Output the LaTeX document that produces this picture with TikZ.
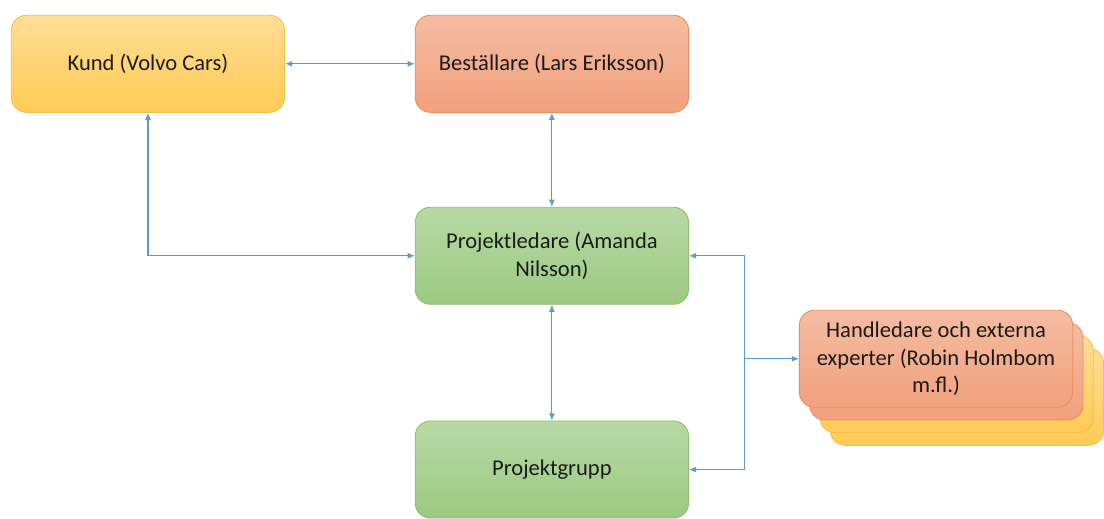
\documentclass[tikz,border=0pt]{standalone}
\usepackage{fontspec}
\setmainfont{Carlito}
\usepackage{tikz}
\usetikzlibrary{arrows.meta,positioning,calc,backgrounds}
\definecolor{linec}{HTML}{5B9BD5}
\definecolor{goldtop}{HTML}{FEDD95}
\definecolor{goldbot}{HTML}{FFCB55}
\definecolor{goldrule}{HTML}{F4C145}
\definecolor{redtop}{HTML}{F5BCA2}
\definecolor{redbot}{HTML}{F2A17C}
\definecolor{redrule}{HTML}{EC8C63}
\definecolor{greentop}{HTML}{B8D9A5}
\definecolor{greenbot}{HTML}{9CCA81}
\definecolor{greenrule}{HTML}{8DBF70}
\definecolor{textc}{HTML}{1A1A1A}
\tikzset{
  role/.style={line width=0.6pt,rounded corners=0.38cm,minimum width=6.9cm,
    minimum height=2.45cm,align=center,text=textc,font=\fontsize{16.2}{19.5}\selectfont},
  roley/.style={role,draw=goldrule,top color=goldtop,bottom color=goldbot},
  roler/.style={role,draw=redrule,top color=redtop,bottom color=redbot},
  roleg/.style={role,draw=greenrule,top color=greentop,bottom color=greenbot},
  link/.style={{Latex[length=1.8mm,width=1.5mm]}-{Latex[length=1.8mm,width=1.5mm]},
    line width=0.75pt,draw=linec},
  feed/.style={-{Latex[length=1.8mm,width=1.5mm]},line width=0.75pt,draw=linec},
}
\begin{document}
\begin{tikzpicture}
  \node[roley](kund){Kund (Volvo Cars)};
  \node[roler,right=3.275cm of kund](best){Beställare (Lars Eriksson)};
  \node[roleg,below=2.375cm of best](pl){Projektledare (Amanda\\ Nilsson)};
  \node[roleg,below=2.925cm of pl](pg){Projektgrupp};
  \node[roler,right=2.775cm of pl,yshift=-2.6cm](hand){Handledare och externa\\
    experter (Robin Holmbom\\ m.fl.)};
  % stacked copies behind the supervisor box
  \begin{scope}[on background layer]
    \node[roley] at ($(hand)+(0.78,-0.96)$){};
    \node[roley] at ($(hand)+(0.52,-0.64)$){};
    \node[roler] at ($(hand)+(0.26,-0.32)$){};
  \end{scope}
  \useasboundingbox ($(kund.north west)+(-0.275,0.375)$) rectangle ++(27.6,-12.975);
  \draw[link](kund) -- (best);
  \draw[link](best) -- (pl);
  \draw[link](pl) -- (pg);
  \draw[link](kund.south) |- (pl.west);
  \coordinate[left=1.375cm of hand.west](bus);
  \draw[feed](bus) -- (hand.west);
  \draw[feed](bus) |- (pl.east);
  \draw[feed](bus) |- (pg.east);
\end{tikzpicture}
\end{document}
